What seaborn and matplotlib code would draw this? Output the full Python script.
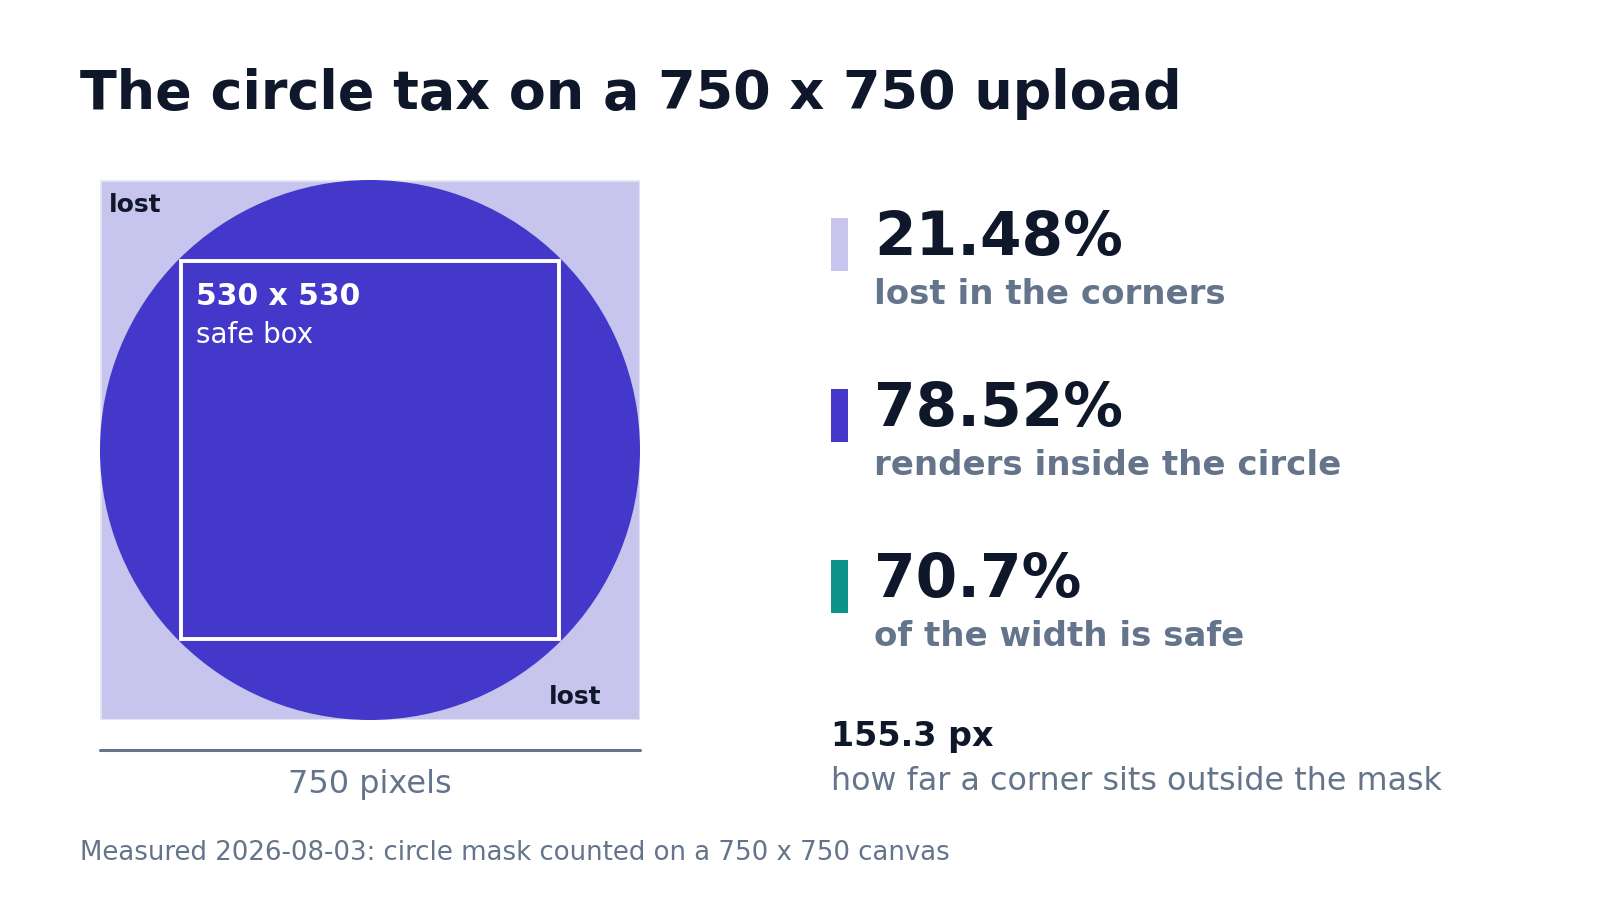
import numpy as np
import matplotlib
matplotlib.use("Agg")
import matplotlib.pyplot as plt
from matplotlib.patches import Rectangle, Circle
import seaborn as sns

# numbers
canvas_px = 750
safe_px = 530
stat_values = ["21.48%", "78.52%", "70.7%"]
stat_labels = ["lost in the corners", "renders inside the circle", "of the width is safe"]
corner_offset = "155.3 px"
corner_label = "how far a corner sits outside the mask"
title = "The circle tax on a 750 x 750 upload"
footer = "Measured 2026-08-03: circle mask counted on a 750 x 750 canvas"

INK = "#0f172a"
GREY = "#64748b"
LAV = "#c7c4ee"
INDIGO = "#4338ca"
TEAL = "#0d9488"
swatch_colors = [LAV, INDIGO, TEAL]

sns.set_theme(style="white")
plt.rcParams["font.family"] = ["DejaVu Sans"]

fig = plt.figure(figsize=(16, 9), dpi=100)
fig.patch.set_facecolor("white")

# left: the canvas with its circle mask
ax = fig.add_axes([100 / 1600, 180 / 900, 540 / 1600, 540 / 900])
ax.add_patch(Rectangle((0, 0), canvas_px, canvas_px, facecolor=LAV,
                       edgecolor="#e2e8f0", linewidth=2, zorder=1))
ax.add_patch(Circle((canvas_px / 2, canvas_px / 2), canvas_px / 2,
                    facecolor=INDIGO, edgecolor="none", zorder=2))
pad = (canvas_px - safe_px) / 2
ax.add_patch(Rectangle((pad + 2, pad + 2), safe_px - 4, safe_px - 4, facecolor="none",
                       edgecolor="white", linewidth=2.8, zorder=3))
ax.text(pad + 24, canvas_px - pad - 63, f"{safe_px} x {safe_px}", color="white",
        fontsize=21.5, fontweight="bold", va="baseline", zorder=4)
ax.text(pad + 24, canvas_px - pad - 116, "safe box", color="white",
        fontsize=20, va="baseline", zorder=4)
ax.text(12, 705, "lost", color=INK, fontsize=18, fontweight="bold",
        va="baseline", zorder=4)
ax.text(697, 22, "lost", color=INK, fontsize=18, fontweight="bold",
        va="baseline", ha="right", zorder=4)

# ruler under the canvas
sns.lineplot(x=[0, canvas_px], y=[-42, -42], color=GREY, linewidth=2.2,
             ax=ax, clip_on=False)
ax.text(canvas_px / 2, -101, f"{canvas_px} pixels", color=GREY, fontsize=23,
        ha="center", va="baseline")
ax.set_xlim(0, canvas_px)
ax.set_ylim(0, canvas_px)
ax.set_axis_off()

# overlay in pixel coordinates for the text column
ov = fig.add_axes([0, 0, 1, 1], facecolor="none")
ov.set_xlim(0, 1600)
ov.set_ylim(900, 0)
ov.set_axis_off()

ov.text(80, 109, title, color=INK, fontsize=38.8, fontweight="bold", va="baseline")

for i, (val, lab, col) in enumerate(zip(stat_values, stat_labels, swatch_colors)):
    y0 = 171 * i
    ov.add_patch(Rectangle((831, 218 + y0), 17, 53, facecolor=col, edgecolor="none"))
    ov.text(874, 255 + y0, val, color=INK, fontsize=43, fontweight="bold", va="baseline")
    ov.text(874, 304 + y0, lab, color=GREY, fontsize=24.5, fontweight="bold", va="baseline")

ov.text(831, 746, corner_offset, color=INK, fontsize=24, fontweight="bold", va="baseline")
ov.text(831, 790, corner_label, color=GREY, fontsize=22.9, va="baseline")
ov.text(80, 860, footer, color=GREY, fontsize=18.7, va="baseline")

fig.savefig("out.png", dpi=100, facecolor="white")
